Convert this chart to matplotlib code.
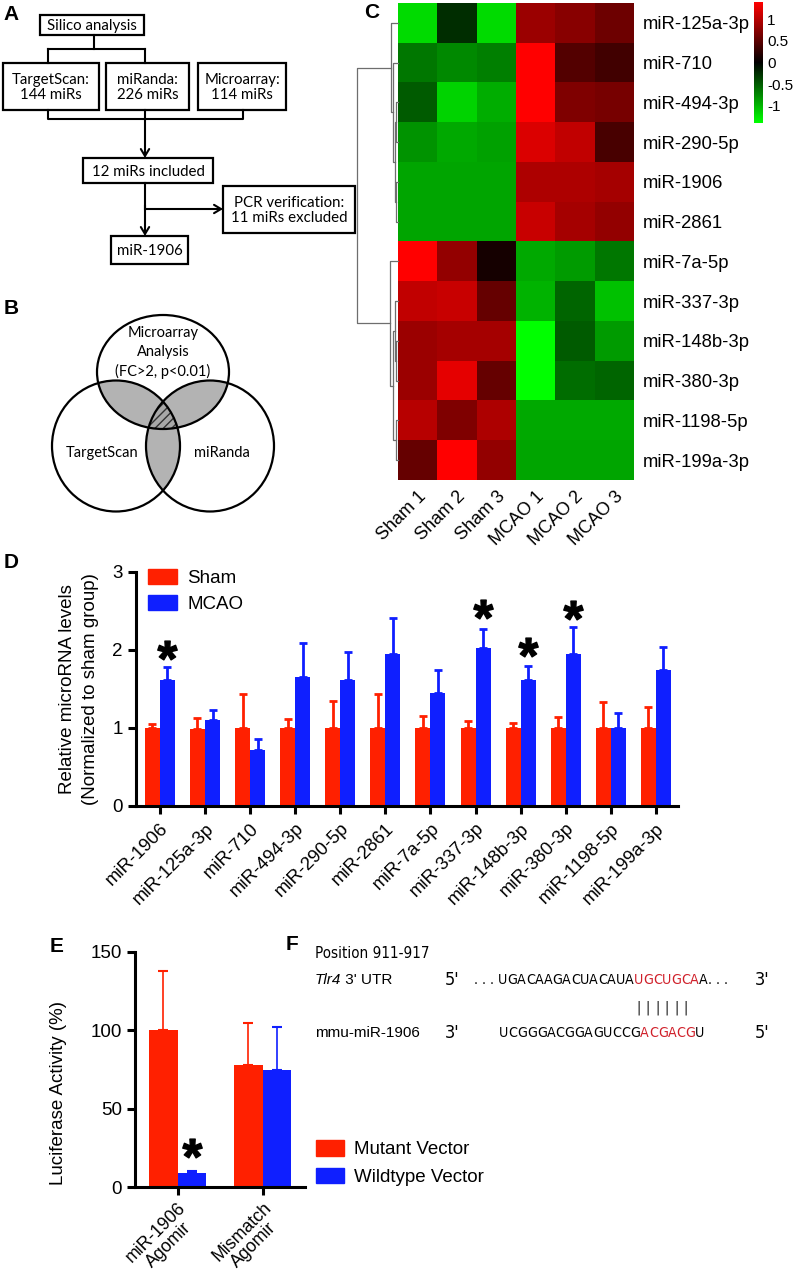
import numpy as np
import matplotlib
matplotlib.use('Agg')
import matplotlib.pyplot as plt
from matplotlib.colors import LinearSegmentedColormap
from matplotlib.patches import Rectangle, Ellipse, Patch
from matplotlib import font_manager
from matplotlib.font_manager import FontProperties

plt.rcParams['font.family'] = ['Liberation Sans', 'DejaVu Sans']
plt.rcParams['hatch.color'] = '#333333'
plt.rcParams['hatch.linewidth'] = 1.0
plt.rcParams['mathtext.fontset'] = 'custom'
plt.rcParams['mathtext.rm'] = 'Liberation Sans'
plt.rcParams['mathtext.bf'] = 'Liberation Sans:bold'

W, H = 795, 1280
RED = '#ff2000'
BLUE = '#0f1fff'

# ---------------- data ----------------
# C: heatmap (z-scores)
heat_rows = ['miR-125a-3p', 'miR-710', 'miR-494-3p', 'miR-290-5p', 'miR-1906', 'miR-2861',
             'miR-7a-5p', 'miR-337-3p', 'miR-148b-3p', 'miR-380-3p', 'miR-1198-5p', 'miR-199a-3p']
heat_cols = ['Sham 1', 'Sham 2', 'Sham 3', 'MCAO 1', 'MCAO 2', 'MCAO 3']
heat_vals = [
    [-1.2, -0.25, -1.2, 0.85, 0.75, 0.6],
    [-0.65, -0.75, -0.7, 1.4, 0.45, 0.35],
    [-0.5, -1.15, -0.95, 1.4, 0.7, 0.65],
    [-0.8, -0.92, -0.88, 1.2, 1.05, 0.4],
    [-0.9, -0.9, -0.9, 0.95, 0.95, 0.9],
    [-0.9, -0.9, -0.9, 1.1, 0.9, 0.8],
    [1.4, 0.8, 0.12, -0.92, -0.85, -0.65],
    [1.05, 1.1, 0.55, -0.98, -0.55, -1.05],
    [0.85, 0.9, 0.9, -1.4, -0.5, -0.85],
    [0.85, 1.25, 0.55, -1.4, -0.6, -0.55],
    [1.0, 0.7, 0.95, -0.92, -0.92, -0.92],
    [0.55, 1.4, 0.8, -0.9, -0.9, -0.9],
]
# row dendrogram merges: (child a, child b, height), new clusters numbered from 12
dendro_merges = [
    (2, 3, 0.05), (4, 5, 0.04), (12, 13, 0.08), (1, 14, 0.12), (0, 15, 0.17),
    (8, 9, 0.05), (7, 17, 0.08), (10, 11, 0.06), (18, 19, 0.13), (6, 20, 0.20),
    (16, 21, 1.0),
]

# D: qPCR
mir_labels = ['miR-1906', 'miR-125a-3p', 'miR-710', 'miR-494-3p', 'miR-290-5p', 'miR-2861',
              'miR-7a-5p', 'miR-337-3p', 'miR-148b-3p', 'miR-380-3p', 'miR-1198-5p', 'miR-199a-3p']
sham_mean = [1.0, 0.99, 1.0, 1.0, 1.0, 1.0, 1.0, 1.0, 1.0, 1.0, 1.0, 1.0]
sham_err = [0.05, 0.14, 0.43, 0.11, 0.34, 0.44, 0.16, 0.09, 0.07, 0.14, 0.33, 0.27]
mcao_mean = [1.62, 1.10, 0.72, 1.65, 1.61, 1.95, 1.45, 2.03, 1.61, 1.95, 1.00, 1.74]
mcao_err = [0.16, 0.13, 0.14, 0.44, 0.37, 0.46, 0.30, 0.24, 0.19, 0.34, 0.19, 0.30]
star_idx = [0, 7, 8, 9]
star_y = [2.0, 2.52, 2.04, 2.51]

# E: luciferase
luc_groups = ['miR-1906\nAgomir', 'Mismatch\nAgomir']
mutant_mean = [100, 78]
mutant_err = [38, 27]
wild_mean = [9, 75]
wild_err = [1, 27]
luc_star_idx = [0]
luc_star_y = [25]

# F: sequences
utr_seq = ['UGACAAGACUACAUA', 'UGCUGCA', 'A']
mir_seq = ['UCGGGACGGAGUCCG', 'ACGACG', 'U']

# look for a condensed sans face for the sequences
narrow_fp = None
for f in font_manager.fontManager.ttflist:
    if f.style != 'normal' or f.weight not in (400, 'normal', 'regular'):
        continue
    if 'Narrow' in f.name or 'Condensed' in f.name or f.stretch in ('condensed', 'semi-condensed'):
        if narrow_fp is None or 'Liberation' in f.name:
            narrow_fp = f.fname
LATO = 'Lato' if 'Lato' in {f.name for f in font_manager.fontManager.ttflist} else 'DejaVu Sans'

fig = plt.figure(figsize=(W / 100, H / 100), dpi=100)


def px_axes(x0, y0, x1, y1):
    return fig.add_axes([x0 / W, 1 - y1 / H, (x1 - x0) / W, (y1 - y0) / H])


# overlay in pixel coords for panels A, B, F and letters
ov = fig.add_axes([0, 0, 1, 1])
ov.set_xlim(0, W)
ov.set_ylim(H, 0)
ov.axis('off')

# ---------------- A: flow chart ----------------
boxes = [
    (40, 15, 144, 35, 'Silico analysis'),
    (3, 63, 99, 110, 'TargetScan:\n144 miRs'),
    (106, 63, 189, 110, 'miRanda:\n226 miRs'),
    (198, 63, 286, 110, 'Microarray:\n114 miRs'),
    (83, 158, 213, 183, '12 miRs included'),
    (223, 186, 355, 233, 'PCR verification:\n11 miRs excluded'),
    (111, 236, 188, 264, 'miR-1906'),
]
for x0, y0, x1, y1, s in boxes:
    ov.add_patch(Rectangle((x0, y0), x1 - x0, y1 - y0, fill=False, lw=1.6, ec='black'))
    ov.text((x0 + x1) / 2, (y0 + y1) / 2 + 1, s, ha='center', va='center', family=LATO,
            fontsize=10.8, linespacing=1.15)

lk = dict(color='black', lw=1.5)
ov.plot([94, 94], [35, 49], **lk)
ov.plot([48, 145], [49, 49], **lk)
ov.plot([48, 48], [49, 63], **lk)
ov.plot([145, 145], [49, 63], **lk)
ov.plot([48, 48, 243, 243], [110, 119, 119, 110], **lk)
ov.plot([145, 145], [110, 119], **lk)
ov.plot([145, 145], [183, 209], **lk)
ap = dict(arrowstyle='->,head_length=0.5,head_width=0.3', lw=1.5, color='black',
          shrinkA=0, shrinkB=0)
ov.annotate('', xy=(145, 158), xytext=(145, 119), arrowprops=ap)
ov.annotate('', xy=(145, 236), xytext=(145, 205), arrowprops=ap)
ov.annotate('', xy=(223, 209), xytext=(145, 209), arrowprops=ap)

# ---------------- B: Venn ----------------
venn = [(163, 372, 132, 114), (116, 446, 128, 131), (210, 446, 128, 131)]
gx, gy = np.meshgrid(np.linspace(40, 290, 700), np.linspace(305, 525, 620))
count = np.zeros_like(gx)
for cx, cy, w, h in venn:
    count += (((gx - cx) / (w / 2)) ** 2 + ((gy - cy) / (h / 2)) ** 2 <= 1)
ov.contourf(gx, gy, count, levels=[1.5, 2.5, 3.5], colors=['#b3b3b3', '#a8a8a8'],
            hatches=[None, '////'])
for cx, cy, w, h in venn:
    ov.add_patch(Ellipse((cx, cy), w, h, fill=False, lw=1.6, ec='black'))
vt = dict(ha='center', va='center', family=LATO, fontsize=10.5)
ov.text(163, 333, 'Microarray', **vt)
ov.text(163, 352, 'Analysis', **vt)
ov.text(163, 371, '(FC>2, p<0.01)', **vt)
ov.text(102, 453, 'TargetScan', **vt)
ov.text(222, 453, 'miRanda', **vt)

# ---------------- C: heatmap ----------------
cmap = LinearSegmentedColormap.from_list('gkr', ['#00ff00', '#000000', '#ff0000'])
axh = px_axes(398, 3, 634, 480)
im = axh.imshow(np.array(heat_vals), cmap=cmap, vmin=-1.4, vmax=1.4, aspect='auto',
                interpolation='nearest')
axh.yaxis.tick_right()
axh.set_yticks(range(len(heat_rows)))
axh.set_yticklabels(heat_rows, fontsize=13.3)
axh.set_xticks(range(len(heat_cols)))
axh.set_xticklabels(heat_cols, fontsize=13, rotation=45, ha='right', rotation_mode='anchor')
axh.tick_params(length=0, pad=6)
for s in axh.spines.values():
    s.set_visible(False)

cax = px_axes(754, 2, 763, 123)
cb = fig.colorbar(im, cax=cax, ticks=[1, 0.5, 0, -0.5, -1])
cb.set_ticklabels(['1', '0.5', '0', '-0.5', '-1'])
cb.outline.set_visible(False)
cax.tick_params(length=0, labelsize=11, pad=3)

# dendrogram
axd = px_axes(357, 3, 398, 480)
axd.set_ylim(len(heat_rows) - 0.5, -0.5)
axd.set_xlim(1.0, 0)
axd.axis('off')
pos = {i: float(i) for i in range(len(heat_rows))}
hgt = {i: 0.0 for i in range(len(heat_rows))}
for k, (a, b, h) in enumerate(dendro_merges):
    nid = len(heat_rows) + k
    axd.plot([hgt[a], h, h, hgt[b]], [pos[a], pos[a], pos[b], pos[b]],
             color='#6e6e6e', lw=0.9, clip_on=False)
    pos[nid] = (pos[a] + pos[b]) / 2
    hgt[nid] = h

# ---------------- D: qPCR bars ----------------
axq = px_axes(136, 572, 678, 806)
x = np.arange(len(mir_labels))
bw = 1 / 3
axq.bar(x - bw / 2, sham_mean, bw, color=RED, label='Sham', zorder=2)
axq.bar(x + bw / 2, mcao_mean, bw, color=BLUE, label='MCAO', zorder=2)
axq.errorbar(x - bw / 2, sham_mean, yerr=[np.zeros(len(x)), sham_err], fmt='none',
             ecolor=RED, elinewidth=2, capsize=3, capthick=2, zorder=1)
axq.errorbar(x + bw / 2, mcao_mean, yerr=[np.zeros(len(x)), mcao_err], fmt='none',
             ecolor=BLUE, elinewidth=2, capsize=3, capthick=2, zorder=1)
for i, yv in zip(star_idx, star_y):
    axq.plot(x[i] + bw / 2, yv, marker=r'$\mathbf{*}$', markersize=14, color='black',
             linestyle='none')
axq.set_ylim(0, 3)
axq.set_xlim(-0.53, len(x) - 0.51)
axq.set_yticks([0, 1, 2, 3])
axq.set_xticks(x)
axq.set_xticklabels(mir_labels, rotation=45, ha='right', rotation_mode='anchor', fontsize=13)
axq.tick_params(axis='both', width=2.2, length=6, labelsize=13.5)
axq.tick_params(axis='x', labelsize=13.3, pad=4)
for s in ['top', 'right']:
    axq.spines[s].set_visible(False)
for s in ['left', 'bottom']:
    axq.spines[s].set_linewidth(2.2)
axq.set_ylabel('Relative microRNA levels\n(Normalized to sham group)', fontsize=13.5,
               linespacing=1.5)
axq.yaxis.set_label_coords(-0.068, 0.5)
axq.legend(handles=[Patch(color=RED, label='Sham'), Patch(color=BLUE, label='MCAO')],
           loc='upper left', bbox_to_anchor=(148 / W, 1 - 569 / H),
           bbox_transform=fig.transFigure, frameon=False, fontsize=13.5,
           handlelength=1.55, handleheight=0.85, handletextpad=0.55, labelspacing=0.45,
           borderpad=0, borderaxespad=0)

# ---------------- E: luciferase ----------------
axe = px_axes(135, 952, 305, 1187)
xe = np.arange(len(luc_groups))
axe.bar(xe - bw / 2, mutant_mean, bw, color=RED, zorder=2)
axe.bar(xe + bw / 2, wild_mean, bw, color=BLUE, zorder=2)
axe.errorbar(xe - bw / 2, mutant_mean, yerr=[np.zeros(2), mutant_err], fmt='none',
             ecolor=RED, elinewidth=1.2, capsize=3.5, capthick=1.5, zorder=1)
axe.errorbar(xe + bw / 2, wild_mean, yerr=[np.zeros(2), wild_err], fmt='none',
             ecolor=BLUE, elinewidth=1.2, capsize=3.5, capthick=1.5, zorder=3)
for i, yv in zip(luc_star_idx, luc_star_y):
    axe.plot(xe[i] + bw / 2, yv, marker=r'$\mathbf{*}$', markersize=14, color='black',
             linestyle='none')
axe.set_ylim(0, 150)
axe.set_xlim(-0.5, 1.5)
axe.set_yticks([0, 50, 100, 150])
axe.set_xticks(xe)
axe.set_xticklabels(luc_groups, rotation=45, ha='right', rotation_mode='anchor',
                    multialignment='center', fontsize=12.8, linespacing=1.05)
axe.tick_params(axis='both', width=2.2, length=6, labelsize=13.5)
axe.tick_params(axis='x', labelsize=12.8, pad=3)
for s in ['top', 'right']:
    axe.spines[s].set_visible(False)
for s in ['left', 'bottom']:
    axe.spines[s].set_linewidth(2.2)
axe.set_ylabel('Luciferase Activity (%)', fontsize=13.5)
axe.yaxis.set_label_coords(-0.40, 0.40)
axe.legend(handles=[Patch(color=RED, label='Mutant Vector'),
                    Patch(color=BLUE, label='Wildtype Vector')],
           loc='upper left', bbox_to_anchor=(316 / W, 1 - 1140 / H),
           bbox_transform=fig.transFigure, frameon=False, fontsize=13.5,
           handlelength=1.5, handleheight=0.9, handletextpad=0.5, labelspacing=0.5,
           borderpad=0, borderaxespad=0)

# ---------------- F: sequence alignment ----------------
if narrow_fp:
    sq = dict(fontproperties=FontProperties(fname=narrow_fp, size=10.2))
    lab = dict(fontproperties=FontProperties(fname=narrow_fp, size=10.9))
    prime = dict(fontproperties=FontProperties(fname=narrow_fp, size=13))
else:
    sq = dict(fontsize=9.8)
    lab = dict(fontsize=11)
    prime = dict(fontsize=13)

ov.text(315, 953, 'Position 911-917', va='center', ha='left', **lab)
t = ov.text(315, 980, 'Tlr4', style='italic', va='center', ha='left', fontsize=11)
ov.annotate(" 3' UTR", xy=(1, 0.5), xycoords=t, va='center', ha='left', fontsize=11)
ov.text(315, 1033, 'mmu-miR-1906', va='center', ha='left', fontsize=11)
ov.text(445, 980, "5'", va='center', ha='left', **prime)
ov.text(755, 980, "3'", va='center', ha='left', **prime)
ov.text(445, 1033, "3'", va='center', ha='left', **prime)
ov.text(755, 1033, "5'", va='center', ha='left', **prime)


def chain(x0, y0, parts):
    prev = None
    arts = []
    for s, c in parts:
        for ch in s:
            if prev is None:
                a = ov.text(x0, y0, ch, color=c, ha='left', va='center', **sq)
            else:
                a = ov.annotate(ch, xy=(1, 0.5), xycoords=prev, color=c, ha='left',
                                va='center', **sq)
            arts.append(a)
            prev = a
    return arts


ov.text(474, 980, '. . .', ha='left', va='center', **sq)
top = chain(498, 980, [(utr_seq[0], 'black'), (utr_seq[1], '#d0202a'), (utr_seq[2], 'black'),
                       ('. . .', 'black')])
chain(499, 1033, [(mir_seq[0], 'black'), (mir_seq[1], '#d0202a'), (mir_seq[2], 'black')])
start = len(utr_seq[0])
for a in top[start:start + len(mir_seq[1])]:
    ov.annotate('|', xy=(0.5, 0.5), xycoords=a, xytext=(0, -20), textcoords='offset points',
                ha='center', va='center', **sq)

# ---------------- panel letters ----------------
lt = dict(fontsize=15, fontweight='bold', ha='left', va='center')
ov.text(3, 14, 'A', **lt)
ov.text(4, 309, 'B', **lt)
ov.text(364, 12, 'C', **lt)
ov.text(4, 562, 'D', **lt)
ov.text(50, 946, 'E', **lt)
ov.text(286, 945, 'F', **lt)

fig.savefig('out.png', dpi=100)
